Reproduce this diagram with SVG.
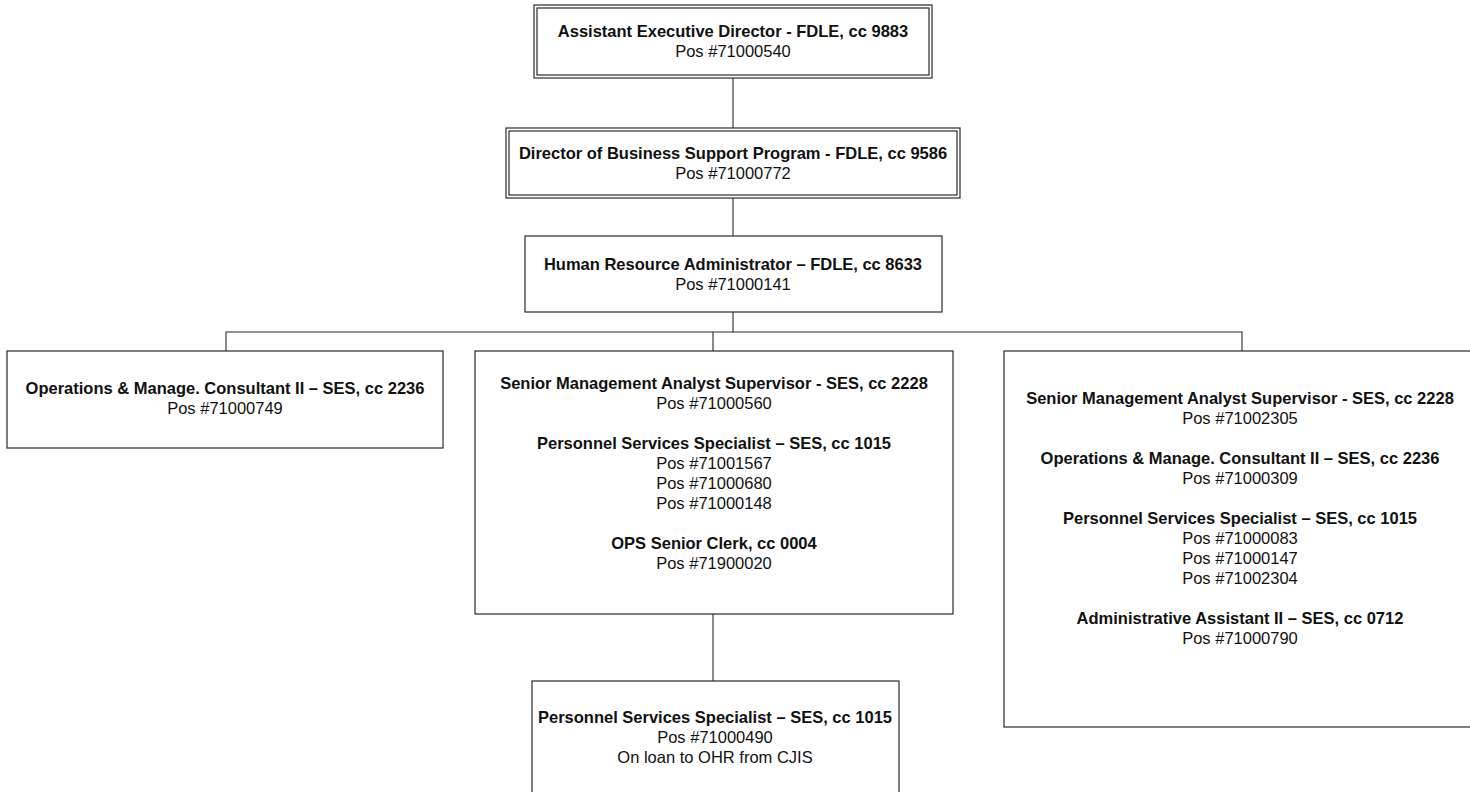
<svg xmlns="http://www.w3.org/2000/svg" width="1470" height="792" viewBox="0 0 1470 792">
  <style>
    .box { fill: #ffffff; stroke: #2a2a2a; stroke-width: 1.2; }
    .link { fill: none; stroke: #2a2a2a; stroke-width: 1.1; }
    text { font-family: "Liberation Sans", Arial, sans-serif; font-size: 16.5px; fill: #111111; text-anchor: middle; }
    .t { font-weight: bold; }
  </style>
  <rect width="1470" height="792" fill="#ffffff"/>

  <!-- connectors -->
  <g id="connectors">
    <line class="link" x1="733" y1="78" x2="733" y2="128"/>
    <line class="link" x1="733" y1="198" x2="733" y2="236"/>
    <line class="link" x1="733" y1="312" x2="733" y2="332"/>
    <polyline class="link" points="226,351 226,332 1242,332 1242,351"/>
    <line class="link" x1="713" y1="332" x2="713" y2="351"/>
    <line class="link" x1="713" y1="614" x2="713" y2="681"/>
  </g>

  <!-- Assistant Executive Director -->
  <g id="assistant-exec-director">
    <rect class="box" x="534" y="5" width="398" height="73"/>
    <rect class="box" x="537" y="8" width="392" height="67"/>
    <text class="t" x="733" y="37">Assistant Executive Director - FDLE, cc 9883</text>
    <text x="733" y="57">Pos #71000540</text>
  </g>

  <!-- Director of Business Support Program -->
  <g id="director-business-support">
    <rect class="box" x="506" y="128" width="454" height="70"/>
    <rect class="box" x="509" y="131" width="448" height="64"/>
    <text class="t" x="733" y="159">Director of Business Support Program - FDLE, cc 9586</text>
    <text x="733" y="179">Pos #71000772</text>
  </g>

  <!-- Human Resource Administrator -->
  <g id="hr-administrator">
    <rect class="box" x="525" y="236" width="417" height="76"/>
    <text class="t" x="733" y="270">Human Resource Administrator – FDLE, cc 8633</text>
    <text x="733" y="290">Pos #71000141</text>
  </g>

  <!-- Operations & Manage. Consultant II -->
  <g id="ops-consultant">
    <rect class="box" x="7" y="351" width="436" height="97"/>
    <text class="t" x="225" y="394">Operations &amp; Manage. Consultant II – SES, cc 2236</text>
    <text x="225" y="414">Pos #71000749</text>
  </g>

  <!-- Senior Management Analyst Supervisor (71000560) -->
  <g id="sr-mgmt-analyst-560">
    <rect class="box" x="475" y="351" width="478" height="263"/>
    <text class="t" x="714" y="389">Senior Management Analyst Supervisor - SES, cc 2228</text>
    <text x="714" y="409">Pos #71000560</text>
    <text class="t" x="714" y="449">Personnel Services Specialist – SES, cc 1015</text>
    <text x="714" y="469">Pos #71001567</text>
    <text x="714" y="489">Pos #71000680</text>
    <text x="714" y="509">Pos #71000148</text>
    <text class="t" x="714" y="549">OPS Senior Clerk, cc 0004</text>
    <text x="714" y="569">Pos #71900020</text>
  </g>

  <!-- Senior Management Analyst Supervisor (71002305) -->
  <g id="sr-mgmt-analyst-2305">
    <rect class="box" x="1004" y="351" width="480" height="376"/>
    <text class="t" x="1240" y="404">Senior Management Analyst Supervisor - SES, cc 2228</text>
    <text x="1240" y="424">Pos #71002305</text>
    <text class="t" x="1240" y="464">Operations &amp; Manage. Consultant II – SES, cc 2236</text>
    <text x="1240" y="484">Pos #71000309</text>
    <text class="t" x="1240" y="524">Personnel Services Specialist – SES, cc 1015</text>
    <text x="1240" y="544">Pos #71000083</text>
    <text x="1240" y="564">Pos #71000147</text>
    <text x="1240" y="584">Pos #71002304</text>
    <text class="t" x="1240" y="624">Administrative Assistant II – SES, cc 0712</text>
    <text x="1240" y="644">Pos #71000790</text>
  </g>

  <!-- Personnel Services Specialist on loan -->
  <g id="pss-on-loan">
    <rect class="box" x="532" y="681" width="367" height="120"/>
    <text class="t" x="715" y="723">Personnel Services Specialist – SES, cc 1015</text>
    <text x="715" y="743">Pos #71000490</text>
    <text x="715" y="763">On loan to OHR from CJIS</text>
  </g>
</svg>
